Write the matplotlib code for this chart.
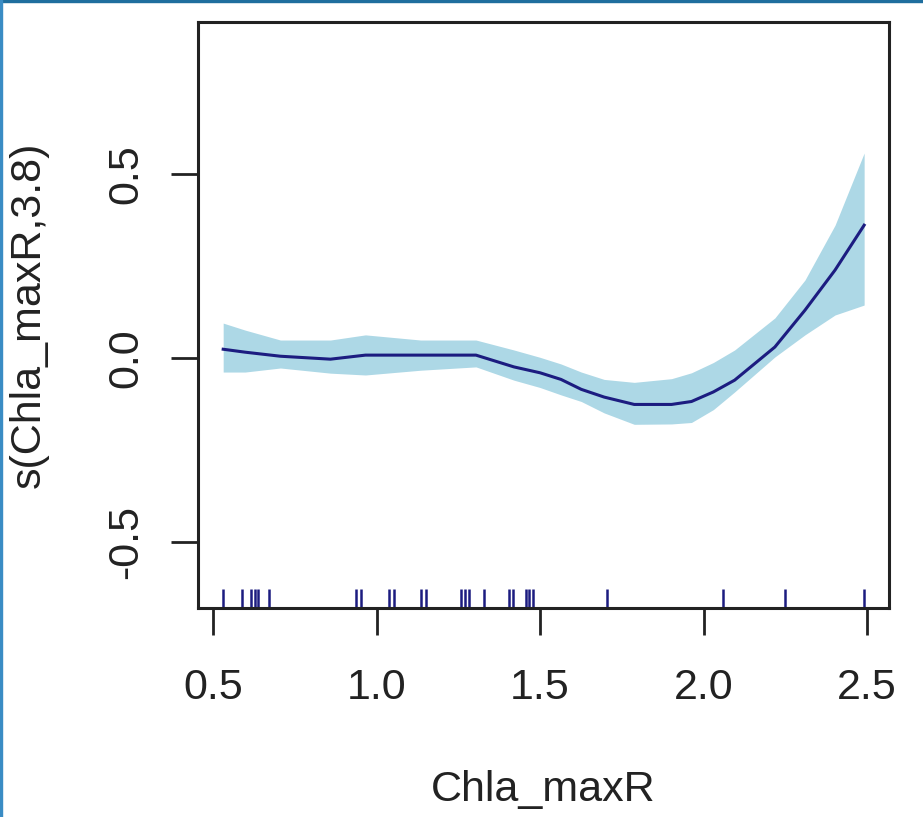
import matplotlib
matplotlib.use("Agg")
import matplotlib.pyplot as plt
from matplotlib.patches import Rectangle

# smooth term estimate
x = [0.531, 0.598, 0.706, 0.859, 0.966, 1.135, 1.304, 1.420, 1.500, 1.564, 1.626,
     1.696, 1.788, 1.902, 1.963, 2.030, 2.095, 2.218, 2.310, 2.402, 2.491]
fit = [0.024, 0.016, 0.005, -0.003, 0.008, 0.008, 0.008, -0.024, -0.040, -0.058, -0.085,
       -0.106, -0.126, -0.126, -0.118, -0.092, -0.060, 0.030, 0.130, 0.239, 0.361]
upper = [0.095, 0.076, 0.049, 0.049, 0.063, 0.049, 0.049, 0.022, 0.002, -0.016, -0.038,
         -0.058, -0.066, -0.056, -0.040, -0.012, 0.022, 0.109, 0.212, 0.361, 0.557]
lower = [-0.038, -0.038, -0.027, -0.041, -0.046, -0.033, -0.024, -0.060, -0.080, -0.100, -0.118,
         -0.149, -0.180, -0.179, -0.175, -0.140, -0.092, 0.003, 0.063, 0.117, 0.144]

rug = [0.531, 0.589, 0.617, 0.629, 0.638, 0.672, 0.936, 0.951, 1.037, 1.052,
       1.135, 1.150, 1.258, 1.270, 1.282, 1.328, 1.405, 1.417, 1.457, 1.466,
       1.479, 1.706, 2.058, 2.248, 2.491]

xticks = [0.5, 1.0, 1.5, 2.0, 2.5]
yticks = [-0.5, 0.0, 0.5]

plt.rcParams["font.family"] = ["Liberation Sans", "DejaVu Sans"]

W, H = 923, 817
fig = plt.figure(figsize=(W / 100, H / 100), dpi=100)
fig.patch.set_facecolor("white")

# thin blue frame of the screenshot
fig.patches.append(Rectangle((0, 1 - 2 / H), 1, 2 / H, transform=fig.transFigure,
                             color="#1f6e9e", zorder=10))
fig.patches.append(Rectangle((0, 0), 2 / W, 1, transform=fig.transFigure,
                             color="#3a8cc4", zorder=10))

ax = fig.add_axes([198 / W, 1 - 608 / H, (889 - 198) / W, (608 - 22) / H])
ax.fill_between(x, lower, upper, color="#add8e6", linewidth=0)
ax.plot(x, fit, color="#1c1c80", linewidth=2.2)
ax.vlines(rug, -0.679, -0.627, color="#1c1c80", linewidth=1.8)

ax.set_xlim(0.454, 2.567)
ax.set_ylim(-0.679, 0.913)
ax.set_xticks(xticks)
ax.set_xticklabels([f"{v:.1f}" for v in xticks])
ax.set_yticks(yticks)
ax.set_yticklabels([f"{v:.1f}" for v in yticks], rotation=90, va="center")

for s in ax.spines.values():
    s.set_linewidth(2.2)
    s.set_color("#222222")
ax.tick_params(length=19.5, width=2, color="#222222", labelsize=31,
               labelcolor="#222222")
ax.tick_params(axis="x", pad=24)
ax.tick_params(axis="y", pad=18)

ax.set_xlabel("Chla_maxR", fontsize=31, color="#222222", labelpad=44)
ax.set_ylabel("s(Chla_maxR,3.8)", fontsize=31, color="#222222", labelpad=41)

fig.savefig("out.png", dpi=100)
